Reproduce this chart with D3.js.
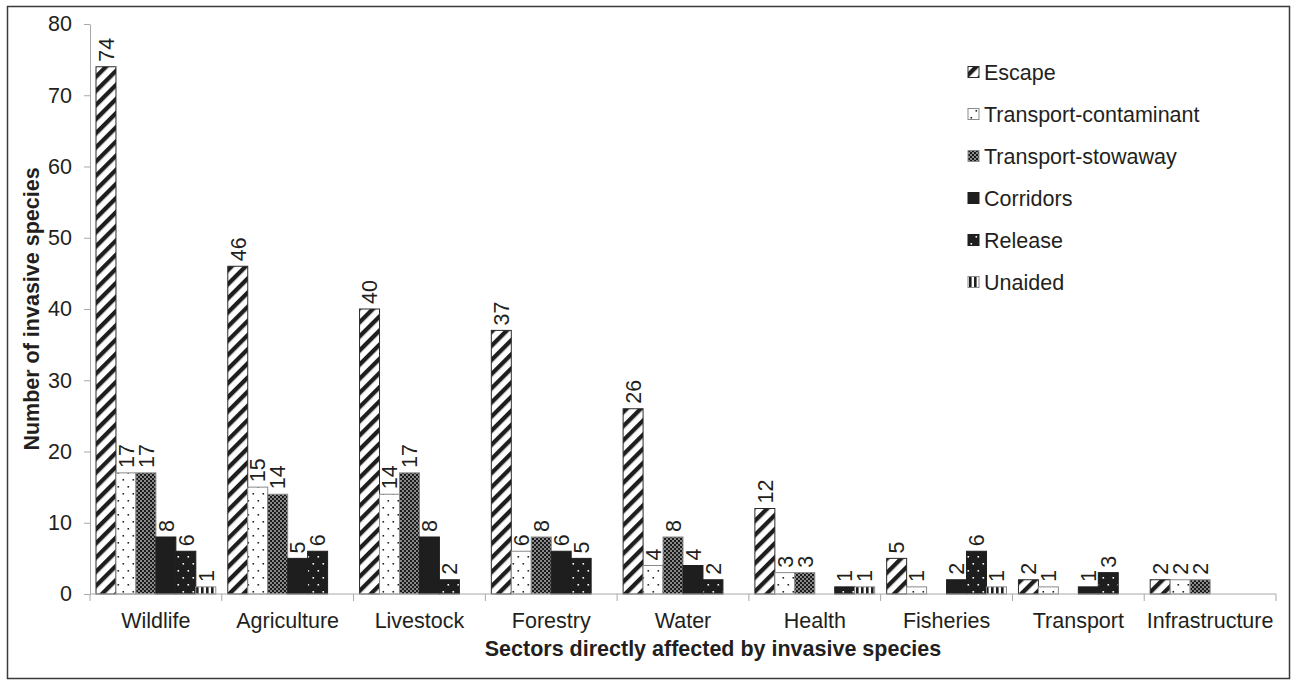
<!DOCTYPE html>
<html>
<head>
<meta charset="utf-8">
<script src="https://cdn.jsdelivr.net/npm/d3@7/dist/d3.min.js"></script>
<style>
  html, body { margin: 0; padding: 0; background: #fff; }
  svg { display: block; }
  text { font-family: "Liberation Sans", Arial, sans-serif; fill: #231f20; }
</style>
</head>
<body>
<svg id="chart" width="1292" height="684"></svg>
<script>
// Sectors on the x axis
const categories = ["Wildlife", "Agriculture", "Livestock", "Forestry", "Water",
                    "Health", "Fisheries", "Transport", "Infrastructure"];

// Introduction pathways (one bar each per sector)
const seriesNames = ["Escape", "Transport-contaminant", "Transport-stowaway",
                     "Corridors", "Release", "Unaided"];

// Number of invasive species per pathway, in sector order
const escape      = [74, 46, 40, 37, 26, 12, 5, 2, 2];
const contaminant = [17, 15, 14, 6, 4, 3, 1, 1, 2];
const stowaway    = [17, 14, 17, 8, 8, 3, 0, 0, 2];
const corridors   = [8, 5, 8, 6, 4, 0, 2, 1, 0];
const release     = [6, 6, 2, 5, 2, 1, 6, 3, 0];
const unaided     = [1, 0, 0, 0, 0, 1, 1, 0, 0];

const yTicks = [0, 10, 20, 30, 40, 50, 60, 70, 80];

const seriesValues = [escape, contaminant, stowaway, corridors, release, unaided];

const svg = d3.select("#chart");
const plot = { left: 90, right: 1276, top: 24, bottom: 594 };
const FS = 21.5;

// outer frame
svg.append("rect")
  .attr("x", 7.5).attr("y", 6.5)
  .attr("width", 1282).attr("height", 672)
  .attr("fill", "none").attr("stroke", "#3a3a3a").attr("stroke-width", 1.5);

// ---- fill patterns ----
const defs = svg.append("defs");

// Escape: bold diagonal hatching
const pEsc = defs.append("pattern").attr("id", "p-escape")
  .attr("patternUnits", "userSpaceOnUse").attr("width", 10).attr("height", 10)
  .attr("patternTransform", "rotate(45)");
pEsc.append("rect").attr("width", 10).attr("height", 10).attr("fill", "#fff");
pEsc.append("rect").attr("width", 4.3).attr("height", 10).attr("fill", "#1e1e1e");

// Transport-contaminant: sparse dots on white
const pCon = defs.append("pattern").attr("id", "p-contaminant")
  .attr("patternUnits", "userSpaceOnUse").attr("width", 10).attr("height", 14);
pCon.append("rect").attr("width", 10).attr("height", 14).attr("fill", "#fff");
pCon.append("rect").attr("x", 2.5).attr("y", 3).attr("width", 1.6).attr("height", 1.6).attr("fill", "#222");
pCon.append("rect").attr("x", 7.5).attr("y", 10).attr("width", 1.6).attr("height", 1.6).attr("fill", "#222");

// Transport-stowaway: fine dark checker
const pSto = defs.append("pattern").attr("id", "p-stowaway")
  .attr("patternUnits", "userSpaceOnUse").attr("width", 4).attr("height", 4);
pSto.append("rect").attr("width", 4).attr("height", 4).attr("fill", "#1a1a1a");
pSto.append("rect").attr("x", 0.3).attr("y", 0.3).attr("width", 1.4).attr("height", 1.4).attr("fill", "#fff");
pSto.append("rect").attr("x", 2.3).attr("y", 2.3).attr("width", 1.4).attr("height", 1.4).attr("fill", "#fff");

// Release: sparse white dots on black
const pRel = defs.append("pattern").attr("id", "p-release")
  .attr("patternUnits", "userSpaceOnUse").attr("width", 10).attr("height", 14);
pRel.append("rect").attr("width", 10).attr("height", 14).attr("fill", "#1e1e1e");
pRel.append("rect").attr("x", 2.5).attr("y", 3).attr("width", 1.6).attr("height", 1.6).attr("fill", "#fff");
pRel.append("rect").attr("x", 7.5).attr("y", 10).attr("width", 1.6).attr("height", 1.6).attr("fill", "#fff");

// Unaided: vertical bars
const pUna = defs.append("pattern").attr("id", "p-unaided")
  .attr("patternUnits", "userSpaceOnUse").attr("width", 5).attr("height", 5);
pUna.append("rect").attr("width", 5).attr("height", 5).attr("fill", "#fff");
pUna.append("rect").attr("x", 1).attr("width", 2.6).attr("height", 5).attr("fill", "#1e1e1e");

const fills   = ["url(#p-escape)", "url(#p-contaminant)", "url(#p-stowaway)", "#1e1e1e", "url(#p-release)", "url(#p-unaided)"];
const strokes = ["#2a2a2a", "#8a8a8a", "#8a8a8a", "#1e1e1e", "#1e1e1e", "#8a8a8a"];

// ---- scales ----
const x = d3.scaleBand().domain(categories).range([plot.left, plot.right]).padding(0);
const x1 = d3.scaleBand().domain(seriesNames).range([6, x.bandwidth() - 6]).padding(0);
const y = d3.scaleLinear().domain([0, 80]).range([plot.bottom, plot.top]);

// ---- y axis ----
const yAxis = svg.append("g").attr("transform", `translate(${plot.left},0)`)
  .call(d3.axisLeft(y).tickValues(yTicks).tickSize(6).tickSizeOuter(0).tickPadding(12));
yAxis.select(".domain").attr("stroke", "#a8a8a8");
yAxis.selectAll(".tick line").attr("stroke", "#a8a8a8");
yAxis.selectAll(".tick text")
  .attr("font-size", FS).attr("font-family", "Liberation Sans, Arial, sans-serif")
  .attr("fill", "#231f20");

// ---- bars ----
const rows = [];
categories.forEach((c, ci) => {
  seriesNames.forEach((s, si) => {
    rows.push({ cat: c, series: s, si, value: seriesValues[si][ci] });
  });
});
const shown = rows.filter(d => d.value > 0);

svg.append("g").selectAll("rect")
  .data(shown).join("rect")
  .attr("x", d => x(d.cat) + x1(d.series))
  .attr("y", d => y(d.value))
  .attr("width", x1.bandwidth())
  .attr("height", d => y(0) - y(d.value))
  .attr("fill", d => fills[d.si])
  .attr("stroke", d => strokes[d.si])
  .attr("stroke-width", 1);

// value labels, rotated above each bar
svg.append("g").selectAll("text")
  .data(shown).join("text")
  .attr("transform", d => `translate(${x(d.cat) + x1(d.series) + x1.bandwidth() / 2},${y(d.value) - 5}) rotate(-90)`)
  .attr("dy", "0.36em")
  .attr("text-anchor", "start")
  .attr("font-size", FS)
  .text(d => d.value);

// ---- x axis ----
const xAxisG = svg.append("g").attr("transform", `translate(0,${plot.bottom})`);
xAxisG.append("line")
  .attr("x1", plot.left).attr("x2", plot.right)
  .attr("stroke", "#a8a8a8");
const boundaries = categories.map(c => x(c)).concat([x.range()[1]]);
xAxisG.selectAll(".bt").data(boundaries).join("line")
  .attr("class", "bt")
  .attr("x1", d => d).attr("x2", d => d)
  .attr("y1", 0).attr("y2", 7)
  .attr("stroke", "#a8a8a8");
xAxisG.selectAll(".cl").data(categories).join("text")
  .attr("class", "cl")
  .attr("x", d => x(d) + x.bandwidth() / 2)
  .attr("y", 34)
  .attr("text-anchor", "middle")
  .attr("font-size", FS)
  .text(d => d);

// axis titles
svg.append("text")
  .attr("x", 713)
  .attr("y", 656)
  .attr("text-anchor", "middle")
  .attr("font-size", FS).attr("font-weight", "bold")
  .text("Sectors directly affected by invasive species");

svg.append("text")
  .attr("transform", `translate(39,${(plot.top + plot.bottom) / 2}) rotate(-90)`)
  .attr("text-anchor", "middle")
  .attr("font-size", FS).attr("font-weight", "bold")
  .text("Number of invasive species");

// ---- legend ----
const legend = svg.append("g").attr("transform", "translate(968,72)");
const items = legend.selectAll("g").data(seriesNames).join("g")
  .attr("transform", (d, i) => `translate(0,${i * 42})`);
items.append("rect")
  .attr("x", 0).attr("y", -5.5).attr("width", 11).attr("height", 11)
  .attr("fill", (d, i) => fills[i])
  .attr("stroke", (d, i) => strokes[i]);
items.append("text")
  .attr("x", 16).attr("dy", "0.36em")
  .attr("font-size", FS)
  .text(d => d);
</script>
</body>
</html>
